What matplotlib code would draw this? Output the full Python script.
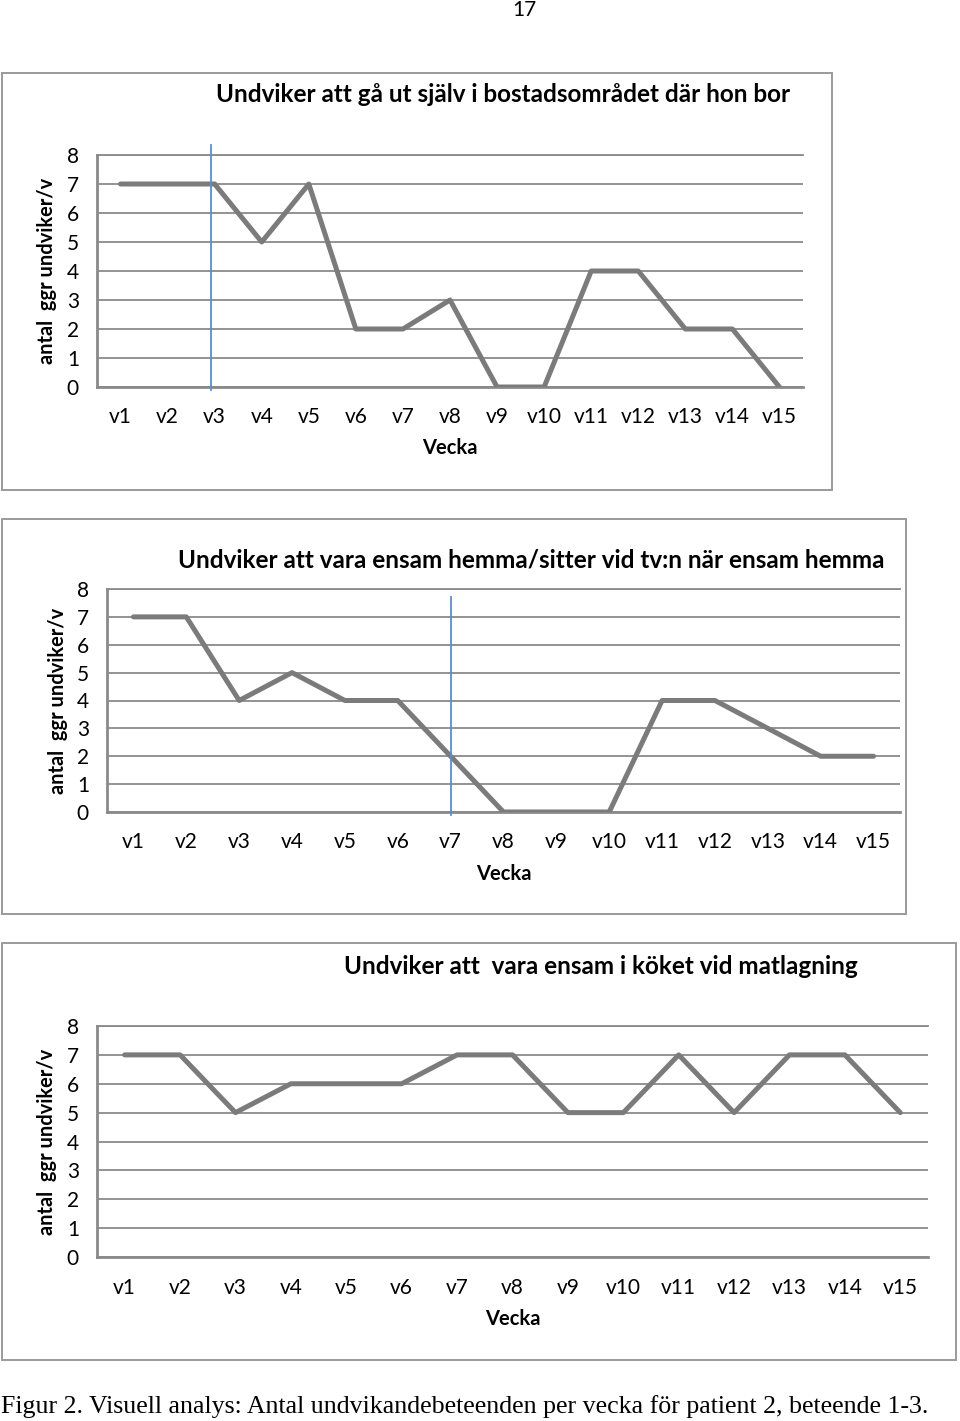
import matplotlib
matplotlib.use("Agg")
import matplotlib.pyplot as plt
from matplotlib.patches import Rectangle

W, H = 960, 1421
DPI = 100

weeks = [f"v{i}" for i in range(1, 16)]
titles = [
    "Undviker att gå ut själv i bostadsområdet där hon bor",
    "Undviker att vara ensam hemma/sitter vid tv:n när ensam hemma",
    "Undviker att  vara ensam i köket vid matlagning",
]
series1 = [7, 7, 7, 5, 7, 2, 2, 3, 0, 0, 4, 4, 2, 2, 0]
series2 = [7, 7, 4, 5, 4, 4, 2, 0, 0, 0, 4, 4, 3, 2, 2]
series3 = [7, 7, 5, 6, 6, 6, 7, 7, 5, 5, 7, 5, 7, 7, 5]
phase_change = [1.93, 6.0, None]          # index position of blue phase line
phase_top = [8.35, 7.7, None]
y_ticks = list(range(0, 9))
ylabel = "antal  ggr undviker/v"
xlabel = "Vecka"
caption = "Figur 2. Visuell analys: Antal undvikandebeteenden per vecka för patient 2, beteende 1-3."
page_no = "17"

FONT = ["Lato", "DejaVu Sans"]
plt.rcParams["font.family"] = FONT

fig = plt.figure(figsize=(W / DPI, H / DPI), dpi=DPI)
fig.patch.set_facecolor("white")


def rect(l, t, r, b):
    return [l / W, 1 - b / H, (r - l) / W, (b - t) / H]


def fx(x):
    return x / W


def fy(y):
    return 1 - y / H


panels = [
    dict(frame=(2, 73, 832, 490), ax=(97, 155, 803, 387), title=(503, 95), ylab=47, vecka=448, xt=415),
    dict(frame=(2, 519, 906, 914), ax=(107, 589, 900, 812), title=(531, 560), ylab=58, vecka=874, xt=840),
    dict(frame=(2, 943, 956, 1360), ax=(97, 1026, 928, 1257), title=(601, 966), ylab=47, vecka=1319, xt=1286),
]
data = [series1, series2, series3]

GRID = "#8a8a8a"
LINE = "#7b7b7b"
BLUE = "#5b8ed0"

for p, vals, ttl, pc, ptop in zip(panels, data, titles, phase_change, phase_top):
    l, t, r, b = p["frame"]
    fig.patches.append(Rectangle((fx(l), fy(b)), fx(r - l), (b - t) / H,
                                 transform=fig.transFigure, fill=False,
                                 edgecolor="#9a9a9a", linewidth=1.4))
    al, at, ar, ab = p["ax"]
    ax = fig.add_axes(rect(al, at, ar, ab))
    x = list(range(len(weeks)))
    ax.plot(x, vals, color=LINE, linewidth=3.6, solid_capstyle="round", zorder=3)
    ax.set_xlim(-0.5, len(weeks) - 0.5)
    ax.set_ylim(0, 8)
    ax.set_yticks(y_ticks)
    ax.set_xticks(x)
    ax.set_xticklabels(weeks)
    ax.yaxis.grid(True, color=GRID, linewidth=1.3)
    ax.set_axisbelow(True)
    for s in ["top", "right"]:
        ax.spines[s].set_visible(False)
    for s in ["left", "bottom"]:
        ax.spines[s].set_color(GRID)
        ax.spines[s].set_linewidth(2.0)
    ax.tick_params(axis="both", length=0, labelsize=15, colors="#000000")
    ax.tick_params(axis="y", pad=13)
    ax.tick_params(axis="x", pad=(p["xt"] - ab) * 0.72 - 5.5)
    ax.axhline(8, color=GRID, linewidth=1.3, zorder=1, clip_on=False)
    if pc is not None:
        ax.plot([pc, pc], [-0.1, ptop], color=BLUE, linewidth=1.3, zorder=4, clip_on=False)
    fig.text(fx(p["title"][0]), fy(p["title"][1]), ttl, ha="center", va="center",
             fontsize=17.5, fontweight="bold")
    fig.text(fx(p["ylab"]), fy((at + ab) / 2), ylabel, ha="center", va="center",
             rotation=90, fontsize=14.4, fontweight="bold")
    fig.text(fx((al + ar) / 2), fy(p["vecka"]), xlabel, ha="center", va="center",
             fontsize=14.5, fontweight="bold")

fig.text(fx(524), fy(10), page_no, ha="center", va="center", fontsize=15)
fig.text(fx(1), fy(1407), caption, ha="left", va="center", fontsize=18.6,
         family=["Liberation Serif", "DejaVu Serif"])

fig.savefig("out.png", dpi=DPI, facecolor="white")
